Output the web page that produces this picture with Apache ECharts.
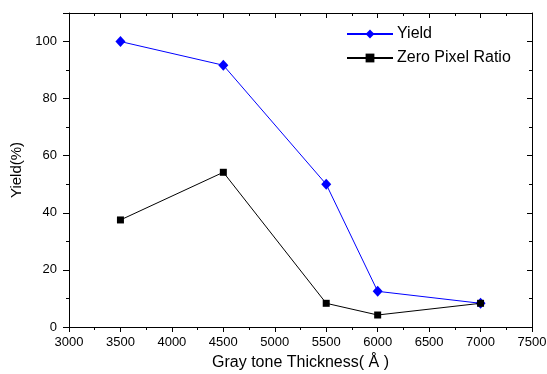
<!DOCTYPE html>
<html><head><meta charset="utf-8">
<script src="https://cdn.jsdelivr.net/npm/echarts@6/dist/echarts.min.js"></script>
<style>html,body{margin:0;padding:0;background:#fff}#c{width:547px;height:374px}</style>
</head><body><div id="c"></div>
<script>
var thickness = [3500, 4500, 5500, 6000, 7000];
var yieldVals = [100, 91.7, 50, 12.5, 8.3];
var zeroPixelVals = [37.5, 54.2, 8.3, 4.2, 8.3];
var xTicks = [3000, 3500, 4000, 4500, 5000, 5500, 6000, 6500, 7000, 7500];
var yTicks = [0, 20, 40, 60, 80, 100];

var font = 'Liberation Sans, Arial, sans-serif';
var chart = echarts.init(document.getElementById('c'));
function pairs(xs, ys){ return xs.map(function(x,i){return [x, ys[i]];}); }
var axisLine = {show:true, onZero:false, lineStyle:{color:'#000', width:1}};
chart.setOption({
  animation:false,
  grid:{left:69, right:15, top:13, bottom:47, containLabel:false, outerBoundsMode:'none'},
  legend:{
    orient:'vertical', left:341, top:21, itemWidth:46, itemHeight:11, itemGap:8,
    textStyle:{fontFamily:font, fontSize:16, color:'#000', padding:[0,0,0,-1]},
    data:['Yield','Zero Pixel Ratio']
  },
  xAxis:[{
    type:'value', min:xTicks[0], max:xTicks[xTicks.length-1], interval:500,
    name:'Gray tone Thickness( Å )', nameLocation:'middle', nameGap:28,
    nameTextStyle:{fontFamily:font, fontSize:16, color:'#000'},
    axisLine:axisLine, axisTick:{show:true, inside:false, length:5, lineStyle:{color:'#000'}},
    minorTick:{show:true, splitNumber:2, length:3, lineStyle:{color:'#000'}},
    axisLabel:{fontFamily:font, fontSize:13, color:'#000', margin:9,
      formatter:function(v){return String(v);}},
    splitLine:{show:false}
  },{
    type:'value', position:'top', min:xTicks[0], max:xTicks[xTicks.length-1], interval:500,
    axisLine:axisLine, axisTick:{show:true, inside:true, length:5, lineStyle:{color:'#000'}},
    minorTick:{show:true, splitNumber:2, length:3, lineStyle:{color:'#000'}},
    axisLabel:{show:false}, splitLine:{show:false}
  }],
  yAxis:[{
    type:'value', min:0, max:110, interval:20,
    name:'Yield(%)', nameLocation:'middle', nameGap:42,
    nameTextStyle:{fontFamily:font, fontSize:15, color:'#000'},
    axisLine:axisLine, axisTick:{show:true, inside:false, length:6, lineStyle:{color:'#000'}},
    minorTick:{show:true, splitNumber:2, length:3, lineStyle:{color:'#000'}},
    axisLabel:{fontFamily:font, fontSize:13, color:'#000', margin:12,
      formatter:function(v){return yTicks.indexOf(v)>=0 ? String(v) : '';}},
    splitLine:{show:false}
  },{
    type:'value', position:'right', min:0, max:110, interval:20,
    axisLine:axisLine, axisTick:{show:true, inside:true, length:5, lineStyle:{color:'#000'}},
    minorTick:{show:true, splitNumber:2, length:3, lineStyle:{color:'#000'}},
    axisLabel:{show:false}, splitLine:{show:false}
  }],
  series:[{
    name:'Yield', type:'line', data:pairs(thickness, yieldVals),
    symbol:'diamond', symbolSize:[10,11], showAllSymbol:true,
    lineStyle:{color:'#0000ff', width:1}, itemStyle:{color:'#0000ff'}, z:3
  },{
    name:'Zero Pixel Ratio', type:'line', data:pairs(thickness, zeroPixelVals),
    symbol:'rect', symbolSize:7, showAllSymbol:true,
    lineStyle:{color:'#000', width:1}, itemStyle:{color:'#000'}, z:4
  }]
});
</script></body></html>
